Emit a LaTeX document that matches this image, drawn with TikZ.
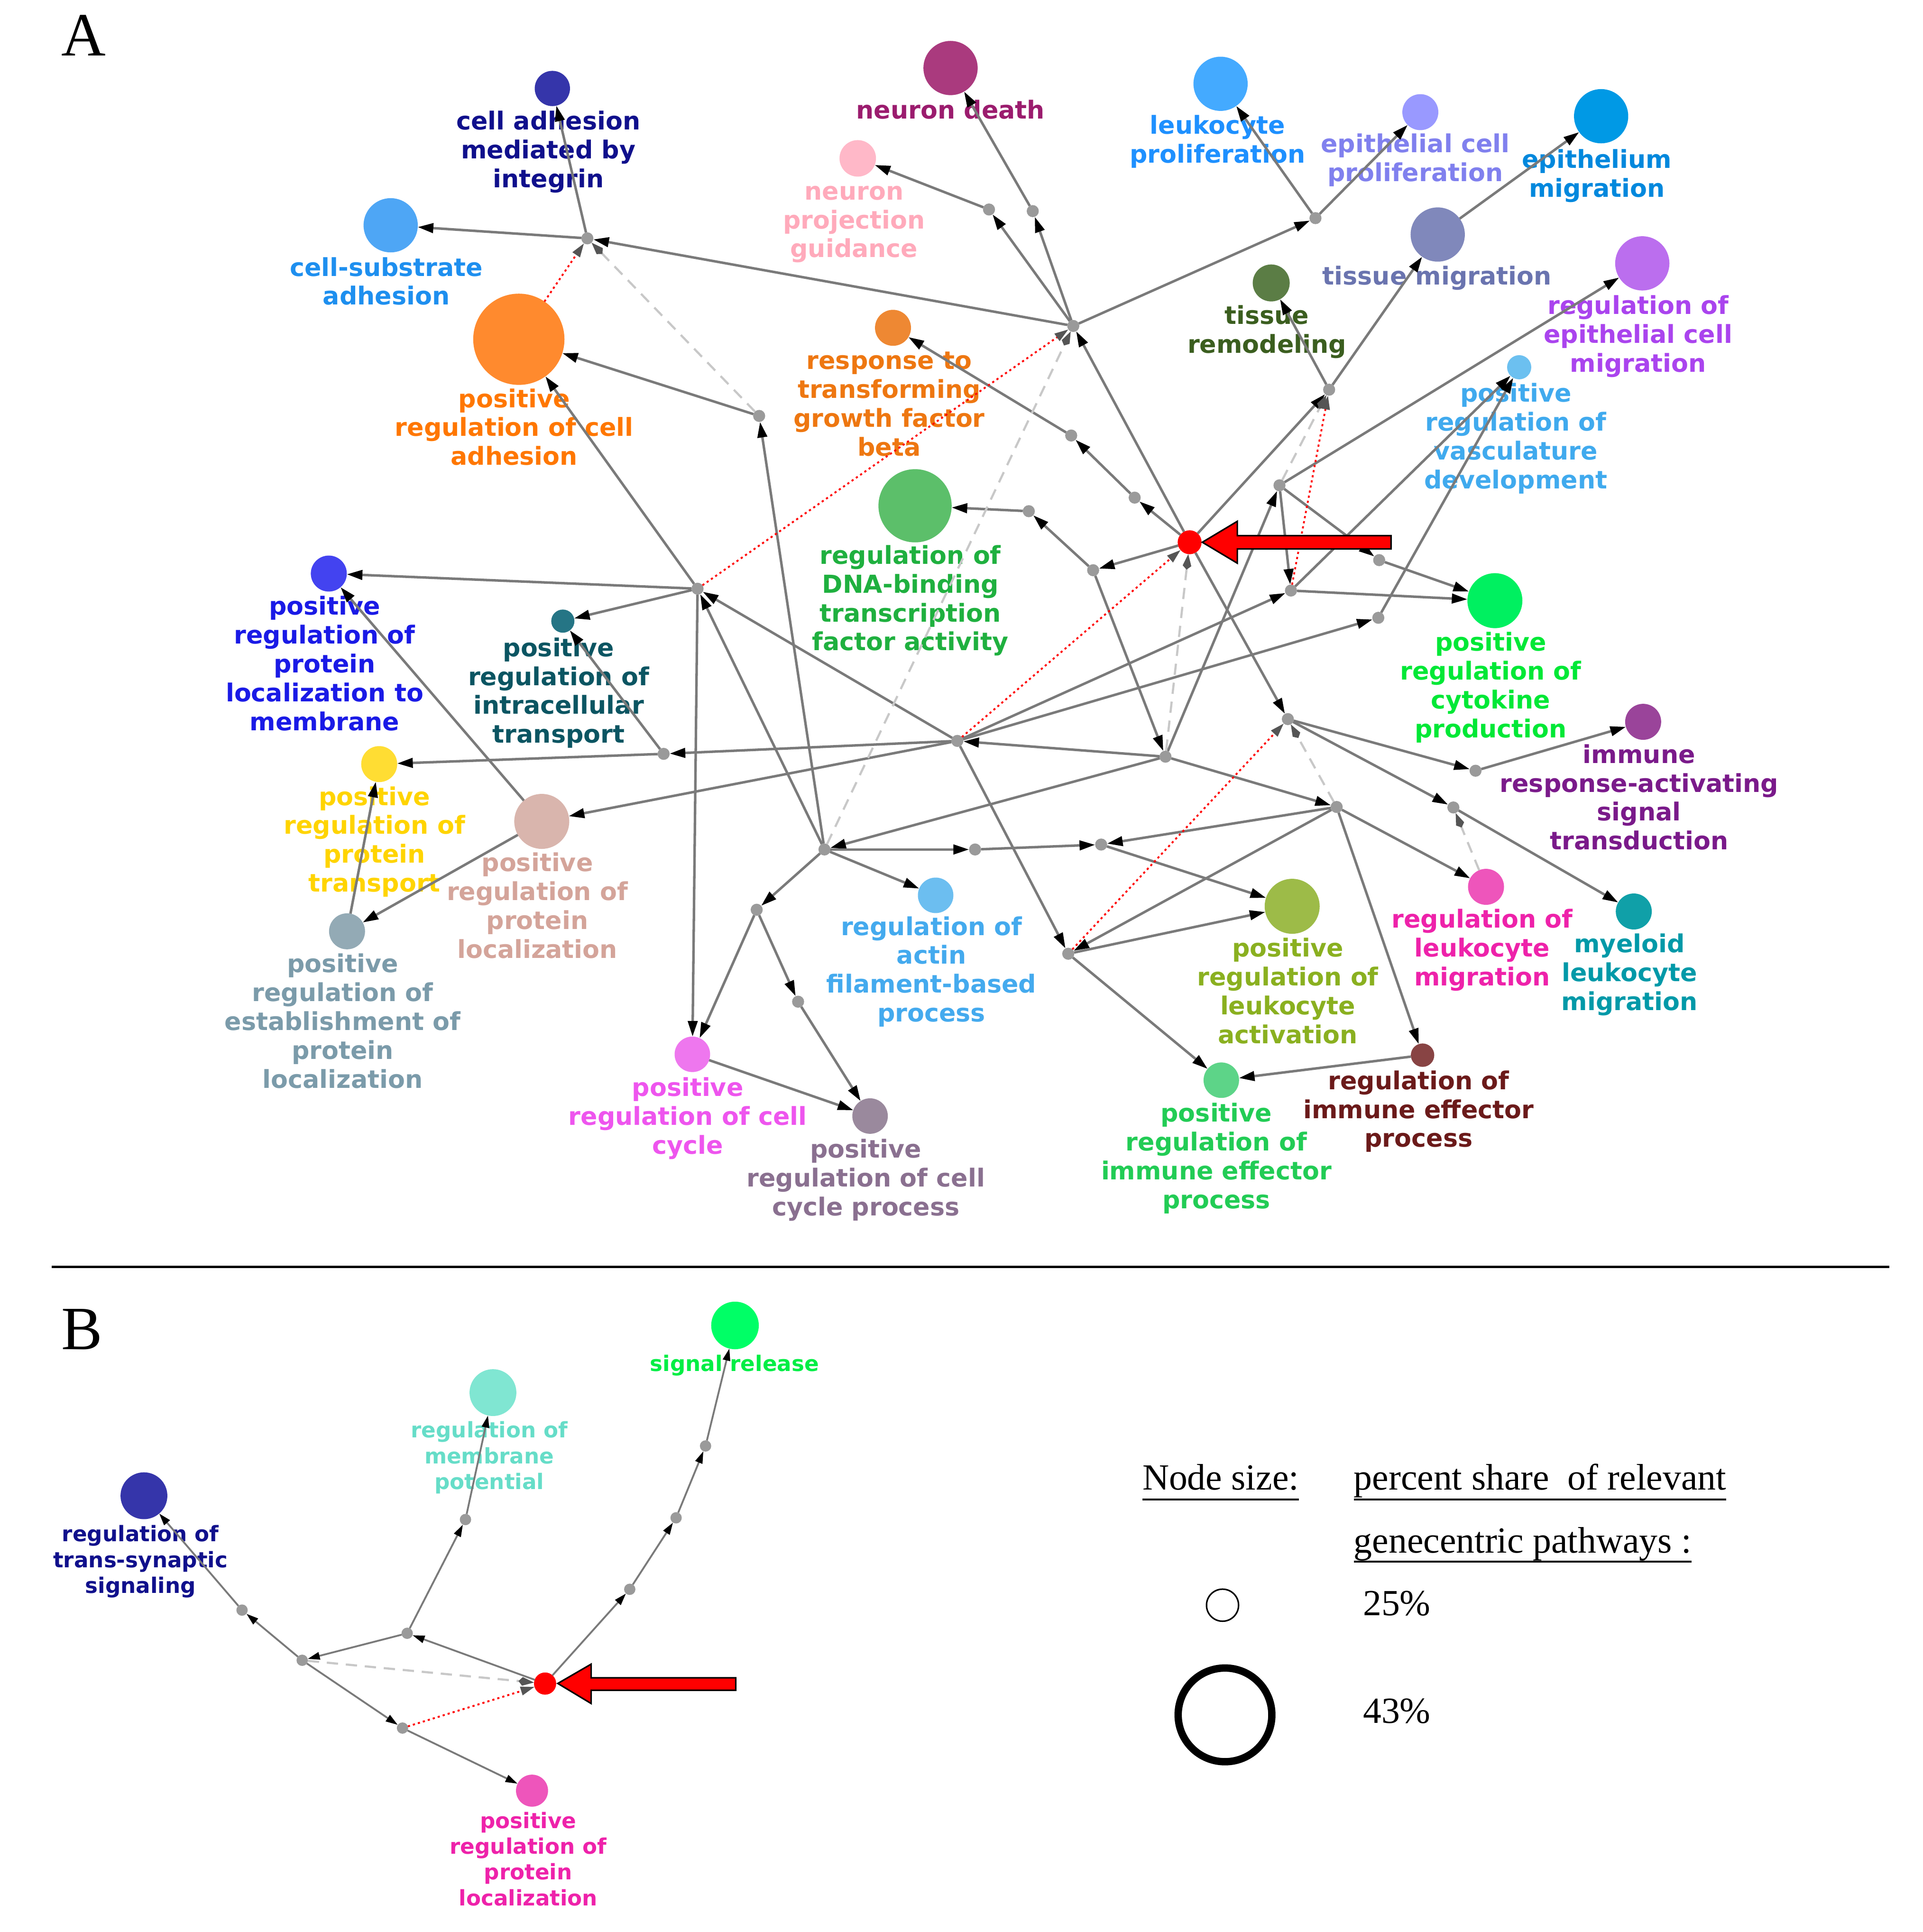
\documentclass[tikz,border=0pt]{standalone}
\usepackage{fontspec}
\usetikzlibrary{arrows.meta}
\newfontfamily\lblfamily{DejaVu Sans}
\newfontfamily\serfamily{Liberation Serif}
\newcommand\lblA{\lblfamily\bfseries\fontsize{5.72}{6.66}\selectfont}
\newcommand\lblB{\lblfamily\bfseries\fontsize{4.95}{5.95}\selectfont}
\newcommand\legfont{\serfamily\fontsize{8.5}{10}\selectfont}
\newcommand\panfont{\serfamily\fontsize{14.2}{16}\selectfont}
\definecolor{edgegray}{HTML}{7A7A7A}
\definecolor{dashgray}{HTML}{C8C8C8}
\definecolor{tipgray}{HTML}{555555}
\definecolor{nodegray}{HTML}{9A9A9A}
% node fills / label colours
\definecolor{nIntegrin}{HTML}{3535AA}\definecolor{tIntegrin}{HTML}{10108C}
\definecolor{nNdeath}{HTML}{AA3A7E}\definecolor{tNdeath}{HTML}{9B1C6E}
\definecolor{nNpg}{HTML}{FFB8C8}\definecolor{tNpg}{HTML}{FFAABB}
\definecolor{nLprolif}{HTML}{44AAFF}\definecolor{tLprolif}{HTML}{1E90FF}
\definecolor{nEprolif}{HTML}{9999FF}\definecolor{tEprolif}{HTML}{8080EE}
\definecolor{nEpimig}{HTML}{0099E5}\definecolor{tEpimig}{HTML}{0088DD}
\definecolor{nCellsub}{HTML}{4EA6F5}\definecolor{tCellsub}{HTML}{1E8FEF}
\definecolor{nTmig}{HTML}{8088BB}\definecolor{tTmig}{HTML}{6A74AF}
\definecolor{nRegepi}{HTML}{BB6EEE}\definecolor{tRegepi}{HTML}{AA44EE}
\definecolor{nTremod}{HTML}{5B7D45}\definecolor{tTremod}{HTML}{3B5E1F}
\definecolor{nPadh}{HTML}{FF8A2E}\definecolor{tPadh}{HTML}{FF7700}
\definecolor{nTgfb}{HTML}{EE8833}\definecolor{tTgfb}{HTML}{EE7711}
\definecolor{nVasc}{HTML}{6CC0F0}\definecolor{tVasc}{HTML}{40AAEE}
\definecolor{nDna}{HTML}{5CBF6A}\definecolor{tDna}{HTML}{1FB03F}
\definecolor{nCyto}{HTML}{00F060}\definecolor{tCyto}{HTML}{00E836}
\definecolor{nMemb}{HTML}{4343F0}\definecolor{tMemb}{HTML}{1A1AE6}
\definecolor{nIntra}{HTML}{257585}\definecolor{tIntra}{HTML}{0B5562}
\definecolor{nPtrans}{HTML}{FFDD33}\definecolor{tPtrans}{HTML}{FFD400}
\definecolor{nPloc}{HTML}{D9B5AD}\definecolor{tPloc}{HTML}{D4A49A}
\definecolor{nEstab}{HTML}{93AAB5}\definecolor{tEstab}{HTML}{7B9BAA}
\definecolor{nImmune}{HTML}{9A449A}\definecolor{tImmune}{HTML}{7A1A8A}
\definecolor{nActin}{HTML}{6CBEF0}\definecolor{tActin}{HTML}{44AAEE}
\definecolor{nLact}{HTML}{9DBB48}\definecolor{tLact}{HTML}{8AB020}
\definecolor{nLmig}{HTML}{EE55BB}\definecolor{tLmig}{HTML}{EE22AA}
\definecolor{nMyel}{HTML}{10A0A8}\definecolor{tMyel}{HTML}{0099A8}
\definecolor{nCcyc}{HTML}{EE77EE}\definecolor{tCcyc}{HTML}{EE55EE}
\definecolor{nCcproc}{HTML}{9A899D}\definecolor{tCcproc}{HTML}{8A7090}
\definecolor{nPimm}{HTML}{5DD488}\definecolor{tPimm}{HTML}{22CC55}
\definecolor{nRimm}{HTML}{884444}\definecolor{tRimm}{HTML}{6B1A1A}
\definecolor{nMpot}{HTML}{80E6D2}\definecolor{tMpot}{HTML}{66DDC8}
\definecolor{nSrel}{HTML}{00FF66}\definecolor{tSrel}{HTML}{00EE44}
\begin{document}
\begin{tikzpicture}[x=0.01cm,y=-0.01cm,
  every node/.style={inner sep=0pt, outer sep=0pt},
  term/.style={circle, fill=#1, draw=none, inner sep=0pt},
  gp/.style={circle, fill=nodegray, draw=none, minimum size=0.098cm},
  gpb/.style={circle, fill=nodegray, draw=none, minimum size=0.092cm},
  lbl/.style={font=\lblA, align=center, anchor=base, text=#1},
  lblb/.style={font=\lblB, align=center, anchor=base, text=#1},
  ed/.style={draw=edgegray, line width=0.58pt, -{Triangle[length=3.6pt,width=2.2pt,color=black]}},
  edb/.style={draw=edgegray, line width=0.42pt, -{Triangle[length=2.8pt,width=1.7pt,color=black]}},
  dsh/.style={draw=dashgray, line width=0.5pt, dash pattern=on 2.6pt off 1.8pt, -{Kite[length=3.6pt,width=2pt,color=tipgray]}},
  rdot/.style={draw=red, line width=0.42pt, dash pattern=on 0.5pt off 0.7pt, -{Triangle[length=3.2pt,width=2pt,color=tipgray]}},
  bigarrow/.style={fill=red, draw=black, line width=0.35pt},
  legtext/.style={font=\legfont, anchor=base west},
]
\useasboundingbox (0,0) rectangle (1560,1567.7);

% ---------------- panel letters ----------------
\node[font=\panfont, anchor=base west] (labA) at (50,45.3) {A};
\node[font=\panfont, anchor=base west] (labB) at (50,1095) {B};
\draw[line width=0.57pt] (42,1028) coordinate (sepL) -- (1533,1028) coordinate (sepR);

% ---------------- panel A: term nodes ----------------
\node[term=nIntegrin, minimum size=0.286cm] (integrin) at (448.2,71.8) {};
\node[term=nNdeath, minimum size=0.44cm] (ndeath) at (771.3,55.2) {};
\node[term=nNpg, minimum size=0.296cm] (npg) at (696,128.5) {};
\node[term=nLprolif, minimum size=0.44cm] (lprolif) at (990.4,68) {};
\node[term=nEprolif, minimum size=0.292cm] (eprolif) at (1152.5,91) {};
\node[term=nEpimig, minimum size=0.44cm] (epimig) at (1299.2,94.3) {};
\node[term=nCellsub, minimum size=0.44cm] (cellsub) at (317,182.8) {};
\node[term=nTmig, minimum size=0.44cm] (tmig) at (1166.6,190.3) {};
\node[term=nRegepi, minimum size=0.44cm] (regepi) at (1332.6,213.7) {};
\node[term=nTremod, minimum size=0.30cm] (tremod) at (1031.5,229.6) {};
\node[term=nPadh, minimum size=0.74cm] (padh) at (421,275.3) {};
\node[term=nTgfb, minimum size=0.292cm] (tgfb) at (724.6,266) {};
\node[term=nVasc, minimum size=0.196cm] (vasc) at (1232.7,298) {};
\node[term=nDna, minimum size=0.594cm] (dna) at (742.5,410.4) {};
\node[term=red, minimum size=0.194cm] (red) at (965.3,440) {};
\node[term=nCyto, minimum size=0.446cm] (cyto) at (1213,487.4) {};
\node[term=nMemb, minimum size=0.292cm] (memb) at (266.8,465.4) {};
\node[term=nIntra, minimum size=0.188cm] (intra) at (456.7,504) {};
\node[term=nPtrans, minimum size=0.292cm] (ptrans) at (307.7,620) {};
\node[term=nPloc, minimum size=0.446cm] (ploc) at (439.6,666.5) {};
\node[term=nEstab, minimum size=0.292cm] (estab) at (281.6,755.7) {};
\node[term=nImmune, minimum size=0.292cm] (immune) at (1333.3,585.7) {};
\node[term=nActin, minimum size=0.288cm] (actin) at (759.2,726.5) {};
\node[term=nLact, minimum size=0.446cm] (lact) at (1048.5,735.4) {};
\node[term=nLmig, minimum size=0.292cm] (lmig) at (1205.8,719.6) {};
\node[term=nMyel, minimum size=0.292cm] (myel) at (1325.7,739.6) {};
\node[term=nCcyc, minimum size=0.288cm] (ccyc) at (561.8,855.5) {};
\node[term=nCcproc, minimum size=0.288cm] (ccproc) at (706,905.6) {};
\node[term=nPimm, minimum size=0.288cm] (pimm) at (991,876.5) {};
\node[term=nRimm, minimum size=0.19cm] (rimm) at (1154.3,856.2) {};

% ---------------- panel A: gray nodes ----------------
\node[gp] (g1) at (476.6,193.4) {};
\node[gp] (g2) at (802.5,170) {};
\node[gp] (g3) at (838,171.3) {};
\node[gp] (g4) at (870.9,264.5) {};
\node[gp] (g5) at (1067.4,177) {};
\node[gp] (g6) at (616,337.5) {};
\node[gp] (g7) at (869.2,353.4) {};
\node[gp] (g8) at (920.7,403.8) {};
\node[gp] (g9) at (1078.5,316.2) {};
\node[gp] (g10) at (1038.2,393.8) {};
\node[gp] (g11) at (834.8,414.8) {};
\node[gp] (g12) at (887,462.7) {};
\node[gp] (g13) at (1119.1,454.5) {};
\node[gp] (g14) at (1047.5,479.2) {};
\node[gp] (g15) at (1118.4,501.3) {};
\node[gp] (g16) at (566,477.7) {};
\node[gp] (g17) at (538.5,611.7) {};
\node[gp] (g18) at (776.8,601.2) {};
\node[gp] (g19) at (945.7,614) {};
\node[gp] (g20) at (1045,583.5) {};
\node[gp] (g21) at (1197.3,625.4) {};
\node[gp] (g22) at (1084.6,654.8) {};
\node[gp] (g23) at (1179.3,655.2) {};
\node[gp] (g24) at (669,689.3) {};
\node[gp] (g25) at (791.2,689.3) {};
\node[gp] (g26) at (893.5,685.3) {};
\node[gp] (g27) at (614,738.2) {};
\node[gp] (g28) at (647.6,812.8) {};
\node[gp] (g29) at (866.8,773.9) {};

% ---------------- panel A: labels (anchor = baseline of last line) ----------------
\node[lbl=tIntegrin] (integrin-l) at (445,152.2) {cell adhesion\\mediated by\\integrin};
\node[lbl=tNdeath] (ndeath-l) at (771.3,96.5) {neuron death};
\node[lbl=tNpg] (npg-l) at (693,208.9) {neuron\\projection\\guidance};
\node[lbl=tLprolif] (lprolif-l) at (988,132.1) {leukocyte\\proliferation};
\node[lbl=tEprolif] (eprolif-l) at (1148.4,147.1) {epithelial cell\\proliferation};
\node[lbl=tEpimig] (epimig-l) at (1295.8,159.7) {epithelium\\migration};
\node[lbl=tCellsub] (cellsub-l) at (313.5,247.4) {cell-substrate\\adhesion};
\node[lbl=tTmig] (tmig-l) at (1166,231.2) {tissue migration};
\node[lbl=tRegepi] (regepi-l) at (1329.2,301.8) {regulation of\\epithelial cell\\migration};
\node[lbl=tTremod] (tremod-l) at (1028,286.6) {tissue\\remodeling};
\node[lbl=tPadh] (padh-l) at (417.2,377.4) {positive\\regulation of cell\\adhesion};
\node[lbl=tTgfb] (tgfb-l) at (721.5,369.9) {response to\\transforming\\growth factor\\beta};
\node[lbl=tVasc] (vasc-l) at (1230,396.4) {positive\\regulation of\\vasculature\\development};
\node[lbl=tDna] (dna-l) at (738.7,527.9) {regulation of\\DNA-binding\\transcription\\factor activity};
\node[lbl=tCyto] (cyto-l) at (1209.6,598.5) {positive\\regulation of\\cytokine\\production};
\node[lbl=tMemb] (memb-l) at (263.4,592.6) {positive\\regulation of\\protein\\localization to\\membrane};
\node[lbl=tIntra] (intra-l) at (453.3,602.9) {positive\\regulation of\\intracellular\\transport};
\node[lbl=tPtrans] (ptrans-l) at (303.9,723.7) {positive\\regulation of\\protein\\transport};
\node[lbl=tPloc] (ploc-l) at (436,777.4) {positive\\regulation of\\protein\\localization};
\node[lbl=tEstab] (estab-l) at (278,882.8) {positive\\regulation of\\establishment of\\protein\\localization};
\node[lbl=tImmune] (immune-l) at (1330,689.5) {immune\\response-activating\\signal\\transduction};
\node[lbl=tActin] (actin-l) at (755.8,829.1) {regulation of\\actin\\filament-based\\process};
\node[lbl=tLact] (lact-l) at (1045,846.7) {positive\\regulation of\\leukocyte\\activation};
\node[lbl=tLmig] (lmig-l) at (1202.7,799.8) {regulation of\\leukocyte\\migration};
\node[lbl=tMyel] (myel-l) at (1322.2,819.7) {myeloid\\leukocyte\\migration};
\node[lbl=tCcyc] (ccyc-l) at (558,936.3) {positive\\regulation of cell\\cycle};
\node[lbl=tCcproc] (ccproc-l) at (702.6,986.3) {positive\\regulation of cell\\cycle process};
\node[lbl=tPimm] (pimm-l) at (987,980.6) {positive\\regulation of\\immune effector\\process};
\node[lbl=tRimm] (rimm-l) at (1151.1,930.8) {regulation of\\immune effector\\process};

% ---------------- panel A: edges ----------------
\draw[ed] (g1) -- (cellsub);
\draw[ed] (g1) -- (integrin);
\draw[ed] (g4) -- (g1);
\draw[ed] (g4) -- (g2);
\draw[ed] (g4) -- (g3);
\draw[ed] (g2) -- (npg);
\draw[ed] (g3) -- (ndeath);
\draw[ed] (g4) -- (g5);
\draw[ed] (g5) -- (lprolif);
\draw[ed] (g5) -- (eprolif);
\draw[ed] (tmig) -- (epimig);
\draw[ed] (g9) -- (tmig);
\draw[ed] (g9) -- (tremod);
\draw[ed] (red) -- (g9);
\draw[ed] (red) -- (g4);
\draw[ed] (red) -- (g8);
\draw[ed] (g8) -- (g7);
\draw[ed] (g7) -- (tgfb);
\draw[ed] (red) -- (g12);
\draw[ed] (g12) -- (g11);
\draw[ed] (g11) -- (dna);
\draw[ed] (g12) -- (g19);
\draw[ed] (red) -- (g20);
\draw[ed] (g19) -- (g10);
\draw[ed] (g10) -- (regepi);
\draw[ed] (g10) -- (g14);
\draw[ed] (g10) -- (g13);
\draw[ed] (g13) -- (cyto);
\draw[ed] (g14) -- (cyto);
\draw[ed] (g14) -- (vasc);
\draw[ed] (g15) -- (vasc);
\draw[ed] (g18) -- (g14);
\draw[ed] (g18) -- (g15);
\draw[ed] (g18) -- (g17);
\draw[ed] (g18) -- (g16);
\draw[ed] (g18) -- (ploc);
\draw[ed] (g18) -- (g29);
\draw[ed] (g19) -- (g18);
\draw[ed] (g19) -- (g24);
\draw[ed] (g19) -- (g22);
\draw[ed] (g16) -- (memb);
\draw[ed] (g16) -- (intra);
\draw[ed] (g16) -- (padh);
\draw[ed] (g16) -- (ccyc);
\draw[ed] (g24) -- (g16);
\draw[ed] (g24) -- (g6);
\draw[ed] (g6) -- (padh);
\draw[ed] (g17) -- (intra);
\draw[ed] (g17) -- (ptrans);
\draw[ed] (ploc) -- (memb);
\draw[ed] (ploc) -- (estab);
\draw[ed] (estab) -- (ptrans);
\draw[ed] (g24) -- (g25);
\draw[ed] (g24) -- (actin);
\draw[ed] (g24) -- (g27);
\draw[ed] (g25) -- (g26);
\draw[ed] (g26) -- (lact);
\draw[ed] (g22) -- (g26);
\draw[ed] (g29) -- (lact);
\draw[ed] (g29) -- (pimm);
\draw[ed] (g22) -- (g29);
\draw[ed] (g22) -- (lmig);
\draw[ed] (g22) -- (rimm);
\draw[ed] (rimm) -- (pimm);
\draw[ed] (g20) -- (g21);
\draw[ed] (g20) -- (g23);
\draw[ed] (g21) -- (immune);
\draw[ed] (g23) -- (myel);
\draw[ed] (g27) -- (ccyc);
\draw[ed] (g27) -- (g28);
\draw[ed] (g28) -- (ccproc);
\draw[ed] (ccyc) -- (ccproc);
% dashed
\draw[dsh] (g6) -- (g1);
\draw[dsh] (g24) -- (g4);
\draw[dsh] (g19) -- (red);
\draw[dsh] (g10) -- (g9);
\draw[dsh] (g22) -- (g20);
\draw[dsh] (lmig) -- (g23);
% red dotted
\draw[rdot] (padh) -- (g1);
\draw[rdot] (g16) -- (g4);
\draw[rdot] (g18) -- (red);
\draw[rdot] (g14) -- (g9);
\draw[rdot] (g29) -- (g20);

% big red arrow A
\draw[bigarrow] (975.6,440) coordinate (arrAtip) -- (1004,423) -- (1004,434.6) -- (1128.7,434.6) -- (1128.7,445.4) -- (1004,445.4) -- (1004,457) -- cycle;

% ---------------- panel B ----------------
\node[term=nIntegrin, minimum size=0.38cm] (tsyn) at (116.8,1213.7) {};
\node[term=nMpot, minimum size=0.38cm] (mpot) at (400,1130) {};
\node[term=nSrel, minimum size=0.386cm] (srel) at (596.4,1075.5) {};
\node[term=red, minimum size=0.18cm] (redB) at (442.3,1366.1) {};
\node[term=nLmig, minimum size=0.26cm] (plocB) at (431.7,1453) {};
\node[gpb] (b1) at (196.4,1306.5) {};
\node[gpb] (b2) at (245.2,1347.2) {};
\node[gpb] (b3) at (330.4,1325.3) {};
\node[gpb] (b4) at (377.7,1233) {};
\node[gpb] (b5) at (326.6,1402.2) {};
\node[gpb] (b6) at (511,1289.6) {};
\node[gpb] (b7) at (548.6,1231.6) {};
\node[gpb] (b8) at (572.5,1173.3) {};

\node[lblb=tIntegrin] (tsyn-l) at (114,1292.8) {regulation of\\trans-synaptic\\signaling};
\node[lblb=tMpot] (mpot-l) at (397,1208.5) {regulation of\\membrane\\potential};
\node[lblb=tSrel] (srel-l) at (596,1112.8) {signal release};
\node[lblb=tLmig] (plocB-l) at (428.6,1546.2) {positive\\regulation of\\protein\\localization};

\draw[edb] (b2) -- (b1);
\draw[edb] (b1) -- (tsyn);
\draw[edb] (b3) -- (b2);
\draw[edb] (redB) -- (b3);
\draw[edb] (b3) -- (b4);
\draw[edb] (b4) -- (mpot);
\draw[edb] (b2) -- (b5);
\draw[edb] (b5) -- (plocB);
\draw[edb] (redB) -- (b6);
\draw[edb] (b6) -- (b7);
\draw[edb] (b7) -- (b8);
\draw[edb] (b8) -- (srel);
\draw[dsh] (b2) -- (redB);
\draw[rdot] (b5) -- (redB);

\draw[bigarrow] (452.6,1366) coordinate (arrBtip) -- (479.7,1350.3) -- (479.7,1361.4) -- (597,1361.4) -- (597,1371.5) -- (479.7,1371.5) -- (479.7,1382.3) -- cycle;

% ---------------- legend ----------------
\node[legtext] (ns) at (927,1209) {Node size:};
\node[legtext] (ps1) at (1098.6,1209) {percent share~ of relevant};
\node[legtext] (ps2) at (1098.6,1260) {genecentric pathways :};
\draw[line width=0.4pt] ([yshift=-2.2pt]ns.base west) -- ([yshift=-2.2pt]ns.base east);
\draw[line width=0.4pt] ([yshift=-2.2pt]ps1.base west) -- ([yshift=-2.2pt]ps1.base east);
\draw[line width=0.4pt] ([yshift=-2pt]ps2.base west) -- ([yshift=-2pt]ps2.base east);
\node[circle, draw=black, line width=0.35pt, minimum size=0.26cm] (small) at (992,1302.5) {};
\node[circle, draw=black, line width=1.7pt, minimum size=0.76cm] (large) at (994,1391.5) {};
\node[legtext] (p25) at (1106,1311) {25\%};
\node[legtext] (p43) at (1106,1398) {43\%};
\end{tikzpicture}
\end{document}
